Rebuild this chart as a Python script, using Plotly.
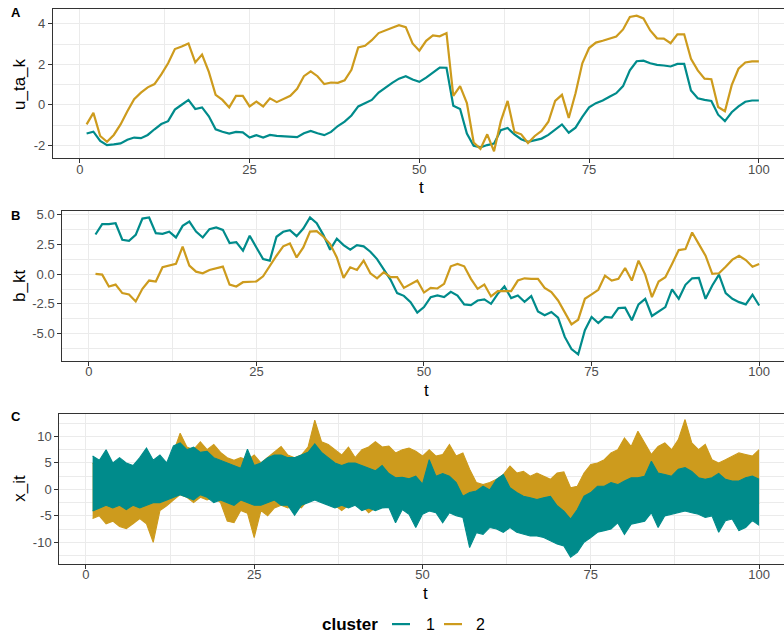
import plotly.graph_objects as go

# ---------------- data ----------------
t = list(range(1, 101))

# Panel A: cluster-level latent trend u_ta_k
u_ta_k_1 = [-1.42, -1.33, -1.78, -1.99, -1.96, -1.91, -1.73, -1.62, -1.65, -1.49,
            -1.21, -0.95, -0.81, -0.24, 0.00, 0.24, -0.21, -0.13, -0.57, -1.21,
            -1.33, -1.42, -1.34, -1.36, -1.62, -1.50, -1.62, -1.49, -1.54, -1.57,
            -1.59, -1.60, -1.41, -1.29, -1.41, -1.50, -1.34, -1.05, -0.83, -0.53,
            -0.08, 0.08, 0.24, 0.60, 0.86, 1.08, 1.29, 1.41, 1.25, 1.13,
            1.34, 1.59, 1.84, 1.83, -0.05, -0.21, -1.42, -2.02, -2.10, -1.99,
            -1.91, -1.25, -1.15, -1.46, -1.70, -1.83, -1.76, -1.67, -1.49, -1.21,
            -0.97, -1.38, -1.13, -0.60, -0.13, 0.08, 0.21, 0.40, 0.57, 0.92,
            1.70, 2.15, 2.18, 2.05, 1.97, 1.94, 1.89, 2.02, 2.02, 0.70,
            0.32, 0.24, 0.19, -0.49, -0.81, -0.37, -0.08, 0.15, 0.21, 0.21]
u_ta_k_2 = [-0.97, -0.40, -1.54, -1.83, -1.49, -0.97, -0.32, 0.28, 0.60, 0.86,
            1.02, 1.50, 2.05, 2.75, 2.88, 3.03, 2.09, 2.48, 1.62, 0.49,
            0.24, -0.13, 0.44, 0.44, -0.08, 0.16, -0.08, 0.32, 0.13, 0.29,
            0.44, 0.79, 1.41, 1.65, 1.41, 1.02, 1.10, 1.08, 1.21, 1.73,
            2.83, 2.91, 3.19, 3.54, 3.69, 3.80, 3.93, 3.83, 3.03, 2.67,
            3.16, 3.43, 3.38, 3.54, 0.44, 0.92, 0.08, -1.86, -2.18, -1.46,
            -2.30, -0.81, 0.19, -1.34, -1.46, -1.89, -1.54, -1.29, -0.84, 0.19,
            0.49, -0.65, 0.57, 2.05, 2.80, 3.07, 3.16, 3.28, 3.37, 3.72,
            4.34, 4.40, 4.26, 3.67, 3.28, 3.27, 3.04, 3.48, 3.48, 2.27,
            1.70, 1.29, 1.26, -0.11, -0.32, 0.97, 1.78, 2.09, 2.14, 2.14]

# Panel B: cluster-level effect b_kt
b_kt_1 = [3.35, 4.22, 4.22, 4.30, 2.91, 2.82, 3.32, 4.69, 4.78, 3.46,
          3.41, 3.58, 3.10, 4.08, 4.44, 3.60, 3.10, 3.80, 3.94, 3.74,
          2.63, 2.71, 1.98, 3.24, 2.26, 1.28, 1.15, 3.16, 3.58, 3.72,
          3.21, 3.85, 4.78, 4.30, 3.30, 2.07, 2.99, 2.46, 2.07, 2.46,
          2.35, 1.90, 1.28, 0.36, -0.45, -1.59, -1.82, -2.35, -3.24, -2.77,
          -1.93, -1.79, -1.93, -1.48, -1.79, -2.54, -2.60, -2.21, -2.12, -2.49,
          -1.65, -1.03, -2.01, -1.79, -2.32, -1.84, -3.13, -3.46, -3.18, -3.66,
          -5.28, -6.31, -6.76, -4.72, -3.60, -4.11, -3.60, -3.66, -2.85, -2.82,
          -3.88, -2.54, -2.07, -3.52, -3.13, -2.77, -1.28, -2.07, -0.89, -0.34,
          -0.31, -2.07, -0.95, -0.03, -1.59, -2.07, -2.35, -2.54, -1.73, -2.63]
b_kt_2 = [0.03, -0.03, -1.03, -0.87, -1.59, -1.70, -2.29, -1.23, -0.53, -0.61,
          0.59, 0.73, 0.87, 2.32, 0.73, 0.22, 0.08, 0.36, 0.53, 0.64,
          -0.87, -1.03, -0.67, -0.67, -0.61, -0.17, 0.73, 1.56, 2.35, 2.60,
          1.42, 2.26, 3.60, 3.63, 3.16, 2.54, 1.42, -0.31, 0.59, 0.36,
          1.15, 0.08, -0.34, 0.17, -0.25, -0.25, -1.15, -0.87, -0.53, -1.54,
          -1.15, -1.20, -0.81, 0.67, 0.87, 0.67, -0.39, -1.23, -0.87, -1.87,
          -1.42, -1.42, -1.42, -0.53, -0.34, -0.39, -0.39, -1.15, -1.51, -2.21,
          -3.27, -4.22, -3.83, -2.07, -1.70, -1.31, -0.11, -0.53, -0.39, 0.53,
          -0.53, 1.15, -0.03, -1.93, -0.61, -0.25, 0.87, 2.04, 2.12, 3.52,
          2.54, 1.56, 0.03, 0.08, 0.64, 1.23, 1.56, 1.20, 0.64, 0.87]

# Panel C: spread of the individual series x_it in each cluster (upper / lower edge)
x_it_1_hi = [6.3, 5.5, 7.5, 5.0, 6.0, 5.0, 4.5, 6.0, 7.8, 5.5,
             6.5, 5.0, 8.2, 8.8, 7.5, 8.0, 7.0, 7.2, 6.0, 5.5,
             5.0, 4.5, 4.0, 7.6, 4.5, 5.0, 6.0, 6.5, 6.5, 6.0,
             6.0, 6.5, 7.0, 8.6, 7.0, 6.0, 5.0, 4.5, 5.0, 5.0,
             4.5, 4.0, 3.5, 4.5, 3.0, 2.2, 2.3, 2.0, 2.5, 1.0,
             5.6, 2.5, 3.0, 2.5, 1.3, -1.3, -0.6, -0.3, 0.6, -0.1,
             1.9, 2.8, 0.3, -0.6, -1.3, -1.6, -1.9, -1.6, -1.3, -3.1,
             -4.1, -5.6, -3.8, -1.3, -0.6, 0.6, 0.6, 1.3, 0.9, 1.6,
             2.2, 2.2, 2.5, 5.3, 3.1, 2.8, 2.5, 3.8, 4.1, 3.4,
             2.2, 1.9, 2.2, 3.0, 1.9, 1.6, 1.6, 2.2, 2.5, 1.9]
x_it_1_lo = [-4.1, -3.5, -3.0, -3.5, -3.0, -3.8, -3.0, -3.5, -3.0, -2.5,
             -2.5, -2.0, -1.5, -1.0, -1.5, -2.0, -1.0, -1.5, -2.5, -2.0,
             -2.5, -3.0, -2.0, -2.5, -3.0, -3.0, -2.5, -2.0, -3.0, -3.0,
             -4.9, -3.0, -2.5, -2.0, -2.5, -3.0, -3.5, -3.0, -3.5, -3.0,
             -4.0, -3.5, -4.0, -3.5, -3.4, -6.3, -3.8, -4.7, -7.2, -4.7,
             -4.1, -4.4, -6.3, -4.4, -5.0, -5.3, -11.0, -8.2, -8.5, -7.2,
             -7.5, -8.1, -7.2, -8.1, -8.5, -8.8, -8.8, -9.1, -9.7, -10.3,
             -10.7, -12.8, -11.9, -10.0, -9.1, -8.1, -7.8, -7.5, -6.3, -8.5,
             -6.6, -6.3, -6.0, -4.4, -7.2, -5.0, -4.7, -4.4, -4.1, -4.4,
             -4.7, -5.3, -5.0, -8.1, -5.9, -5.6, -7.8, -7.2, -5.9, -6.8]
x_it_2_hi = [5.0, 3.5, 3.0, 2.5, 3.0, 2.0, 3.0, 2.5, 2.0, 4.0,
             3.0, 4.0, 7.0, 10.6, 8.0, 7.5, 9.0, 7.5, 8.5, 7.0,
             6.0, 5.5, 6.0, 5.5, 6.5, 5.0, 6.0, 7.0, 8.1, 6.5,
             6.0, 6.5, 8.0, 13.1, 9.0, 8.5, 7.5, 6.5, 8.0, 6.0,
             7.5, 8.0, 9.0, 8.0, 8.2, 6.9, 7.5, 7.8, 7.2, 6.3,
             7.5, 6.3, 6.6, 8.5, 6.3, 6.9, 3.8, 1.3, 0.9, 1.3,
             1.9, 2.8, 4.4, 3.1, 3.4, 2.5, 3.1, 2.5, 1.9, 3.1,
             3.3, 0.3, 0.6, 3.1, 4.7, 5.0, 5.6, 6.9, 7.5, 9.7,
             8.1, 11.0, 8.8, 6.6, 8.1, 8.8, 7.5, 9.4, 13.2, 8.8,
             7.5, 8.5, 5.6, 5.0, 5.6, 6.3, 6.9, 6.6, 6.3, 7.5]
x_it_2_lo = [-5.5, -5.0, -6.5, -6.0, -7.0, -7.4, -6.5, -5.5, -6.5, -10.0,
             -4.0, -3.1, -2.0, -1.0, -1.5, -2.5, -1.5, -2.0, -1.5, -2.5,
             -6.0, -6.3, -4.0, -4.5, -9.1, -4.0, -5.0, -3.5, -3.0, -3.5,
             -3.0, -3.5, -2.0, -1.0, -1.5, -2.0, -3.0, -4.0, -3.0, -2.5,
             -3.0, -4.4, -3.5, -3.0, -2.0, -2.5, -1.5, -2.0, -2.5, -1.5,
             -1.3, -1.0, -2.0, -1.5, -2.5, -3.5, -4.4, -5.0, -5.6, -6.3,
             -5.3, -5.9, -6.3, -5.6, -5.0, -6.3, -6.6, -5.9, -6.3, -6.9,
             -7.2, -7.5, -7.2, -5.0, -4.1, -3.4, -2.8, -2.5, -2.2, -2.5,
             -1.9, -2.2, -1.6, -2.5, -1.9, -1.6, -1.9, -1.3, -1.6, -1.9,
             -2.2, -2.5, -1.9, -3.1, -2.8, -2.5, -3.4, -2.8, -4.4, -2.5]

x_ticks = [0, 25, 50, 75, 100]
yA_ticks = [-2, 0, 2, 4]
yA_labels = ["-2", "0", "2", "4"]
yB_ticks = [-5, -2.5, 0, 2.5, 5]
yB_labels = ["-5.0", "-2.5", "0.0", "2.5", "5.0"]
yC_ticks = [-10, -5, 0, 5, 10]
yC_labels = ["-10", "-5", "0", "5", "10"]

# ---------------- styling ----------------
TEAL = "#008B8B"
GOLD = "#CD9B1D"
FONT = "Liberation Sans, Arial, sans-serif"
W, H = 784, 641
GRID = "#EBEBEB"
FRAME = "#333333"


def py(px):
    """Convert a pixel row (from top) into paper fraction."""
    return 1 - px / H


fig = go.Figure()

# Panel A
fig.add_trace(go.Scatter(x=t, y=u_ta_k_1, mode="lines", line=dict(color=TEAL, width=2.2),
                         xaxis="x", yaxis="y", showlegend=False))
fig.add_trace(go.Scatter(x=t, y=u_ta_k_2, mode="lines", line=dict(color=GOLD, width=2.2),
                         xaxis="x", yaxis="y", showlegend=False))
# Panel B
fig.add_trace(go.Scatter(x=t, y=b_kt_1, mode="lines", line=dict(color=TEAL, width=2.2),
                         xaxis="x2", yaxis="y2", showlegend=False))
fig.add_trace(go.Scatter(x=t, y=b_kt_2, mode="lines", line=dict(color=GOLD, width=2.2),
                         xaxis="x2", yaxis="y2", showlegend=False))

# Panel C: each cluster's bundle of series as a filled band with jagged edges
for lo, hi, col in [(x_it_2_lo, x_it_2_hi, GOLD), (x_it_1_lo, x_it_1_hi, TEAL)]:
    fig.add_trace(go.Scatter(x=t, y=lo, mode="lines", line=dict(color=col, width=1.1),
                             xaxis="x3", yaxis="y3", showlegend=False))
    fig.add_trace(go.Scatter(x=t, y=hi, mode="lines", line=dict(color=col, width=1.1),
                             fill="tonexty", fillcolor=col,
                             xaxis="x3", yaxis="y3", showlegend=False))


def xaxis_style(left_px, anchor):
    return dict(
        domain=[left_px / W, 1.0], anchor=anchor, range=[-3.95, 103.7],
        tickmode="array", tickvals=x_ticks, ticktext=[str(v) for v in x_ticks],
        showgrid=True, gridcolor=GRID, gridwidth=1.1, zeroline=False,
        showline=True, linecolor=FRAME, linewidth=1.1, mirror=True,
        ticks="outside", ticklen=4, tickwidth=1.1, tickcolor=FRAME,
        ticklabelstandoff=-5,
        tickfont=dict(family=FONT, size=13, color="#4D4D4D"),
        minor=dict(tickmode="array", tickvals=[12.5, 37.5, 62.5, 87.5],
                   showgrid=True, gridcolor=GRID, gridwidth=0.55, ticks=""),
    )


def yaxis_style(top_px, bot_px, rng, vals, labels, minor_vals, anchor):
    return dict(
        domain=[py(bot_px), py(top_px)], anchor=anchor, range=rng,
        tickmode="array", tickvals=vals, ticktext=labels,
        showgrid=True, gridcolor=GRID, gridwidth=1.1, zeroline=False,
        showline=True, linecolor=FRAME, linewidth=1.1, mirror=False,
        ticks="outside", ticklen=4, tickwidth=1.1, tickcolor=FRAME,
        tickfont=dict(family=FONT, size=13, color="#4D4D4D"),
        minor=dict(tickmode="array", tickvals=minor_vals,
                   showgrid=True, gridcolor=GRID, gridwidth=0.55, ticks=""),
    )


fig.update_layout(
    width=W, height=H, margin=dict(l=0, r=0, t=0, b=0),
    paper_bgcolor="white", plot_bgcolor="white",
    font=dict(family=FONT),
    xaxis=xaxis_style(53, "y"),
    yaxis=yaxis_style(5, 155, [-2.63, 4.73], yA_ticks, yA_labels, [-1, 1, 3], "x"),
    xaxis2=xaxis_style(62.3, "y2"),
    yaxis2=yaxis_style(208.3, 359, [-7.29, 5.33], yB_ticks, yB_labels,
                       [-6.25, -3.75, -1.25, 1.25, 3.75], "x2"),
    xaxis3=xaxis_style(59.3, "y3"),
    yaxis3=yaxis_style(412.3, 563.3, [-14.06, 14.3], yC_ticks, yC_labels,
                       [-12.5, -7.5, -2.5, 2.5, 7.5, 12.5], "x3"),
)

ann = []
# panel tags
for txt, yy in [("A", 9), ("B", 212.5), ("C", 415.5)]:
    ann.append(dict(text=f"<b>{txt}</b>", x=16 / W, y=py(yy), xref="paper", yref="paper",
                    showarrow=False, xanchor="center", yanchor="middle",
                    font=dict(family=FONT, size=13, color="black")))
# x titles
for xx, yy in [(422, 185), (427, 389), (425, 593)]:
    ann.append(dict(text="t", x=xx / W, y=py(yy), xref="paper", yref="paper",
                    showarrow=False, xanchor="center", yanchor="middle",
                    font=dict(family=FONT, size=17, color="black")))
# y titles
for txt, yy in [("u_ta_k", 80.5), ("b_kt", 283.7), ("x_it", 487.8)]:
    ann.append(dict(text=txt, x=20 / W, y=py(yy), xref="paper", yref="paper",
                    showarrow=False, xanchor="center", yanchor="middle", textangle=-90,
                    font=dict(family=FONT, size=17, color="black")))
# legend
ann.append(dict(text="<b>cluster</b>", x=380 / W, y=py(624), xref="paper", yref="paper",
                showarrow=False, xanchor="right", yanchor="middle",
                font=dict(family=FONT, size=17, color="black")))
for lab, xx in [("1", 424), ("2", 474)]:
    ann.append(dict(text=lab, x=xx / W, y=py(624), xref="paper", yref="paper",
                    showarrow=False, xanchor="left", yanchor="middle",
                    font=dict(family=FONT, size=16, color="black")))
fig.update_layout(annotations=ann)

shapes = []
for x0, x1, col in [(392, 410, TEAL), (444, 462, GOLD)]:
    shapes.append(dict(type="line", xref="paper", yref="paper", x0=x0 / W, x1=x1 / W,
                       y0=py(624), y1=py(624), line=dict(color=col, width=2.2)))
fig.update_layout(shapes=shapes)

fig.write_html("out.html")
